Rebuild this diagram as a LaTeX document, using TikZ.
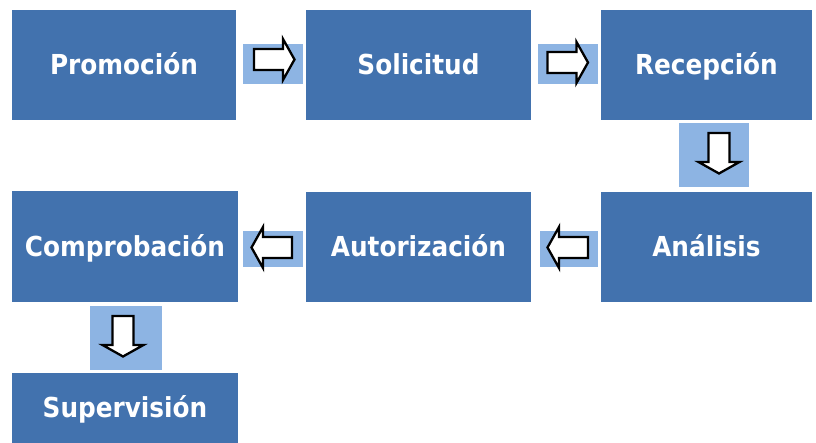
\documentclass[tikz,border=0pt]{standalone}
\usepackage{fontspec}
\newfontfamily\boxfont{DejaVu Sans Condensed}[BoldFont={DejaVu Sans Condensed Bold}]
\definecolor{boxblue}{RGB}{66,114,174}
\definecolor{lightblue}{RGB}{141,180,227}
\tikzset{
  stepbox/.style={fill=boxblue, draw=none, text=white, font=\boxfont\bfseries\fontsize{27.5}{32}\selectfont, inner sep=0pt, text height=20pt, text depth=0pt},
  arrowbg/.style={fill=lightblue, draw=none, inner sep=0pt},
  arrowshape/.style={fill=white, draw=black, line width=2.3pt, line join=miter},
  pics/blockarrow/.style={code={
    \draw[arrowshape] (-20,-10.5) -- (9,-10.5) -- (9,-20.5) -- (20.5,0) -- (9,20.5) -- (9,10.5) -- (-20,10.5) -- cycle;
  }}
}
\begin{document}
\begin{tikzpicture}[x=1pt,y=1pt]
\useasboundingbox (0,0) rectangle (816,443);
\fill[white] (0,0) rectangle (816,443);
% boxes
\node[stepbox, minimum width=224pt, minimum height=110pt] (promo) at (124,378) {Promoción};
\node[stepbox, minimum width=225pt, minimum height=110pt] (soli) at (418.5,378) {Solicitud};
\node[stepbox, minimum width=211pt, minimum height=110pt] (recep) at (706.5,378) {Recepción};
\node[stepbox, minimum width=211pt, minimum height=110pt] (anal) at (706.5,196) {Análisis};
\node[stepbox, minimum width=225pt, minimum height=110pt] (auto) at (418.5,196) {Autorización};
\node[stepbox, minimum width=226pt, minimum height=111pt] (compro) at (125,196.5) {Comprobación};
\node[stepbox, minimum width=226pt, minimum height=70pt] (super) at (125,35) {Supervisión};
% arrow backgrounds
\node[arrowbg, minimum width=60pt, minimum height=40pt] (b1) at (273,379) {};
\node[arrowbg, minimum width=60pt, minimum height=40pt] (b2) at (568,379) {};
\node[arrowbg, minimum width=70pt, minimum height=64pt] (b3) at (714,288) {};
\node[arrowbg, minimum width=58pt, minimum height=36pt] (b4) at (569,194) {};
\node[arrowbg, minimum width=60pt, minimum height=36pt] (b5) at (273,194) {};
\node[arrowbg, minimum width=72pt, minimum height=64pt] (b6) at (126,105) {};
% block arrows
\pic at (274,383.5) {blockarrow};
\pic at (567.5,380.5) {blockarrow};
\pic[rotate=-90] at (719,290) {blockarrow};
\pic[rotate=180] at (568,195.5) {blockarrow};
\pic[rotate=180] at (272,195.5) {blockarrow};
\pic[rotate=-90] at (123,107) {blockarrow};
\end{tikzpicture}
\end{document}
